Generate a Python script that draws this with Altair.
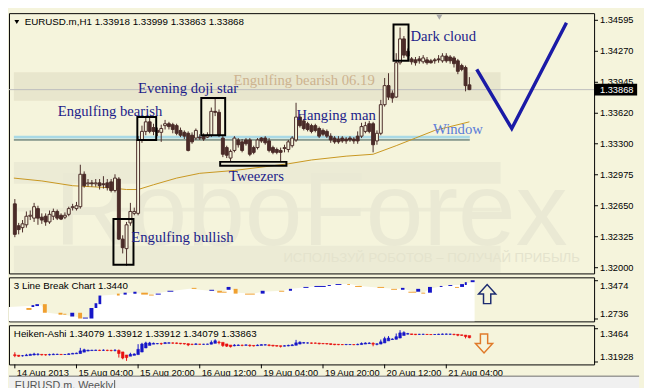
import altair as alt
import pandas as pd

# ---------------- data ----------------
opens = [1.3267,1.3244,1.3242,1.3245,1.3254,1.3252,1.3262,1.3253,1.3254,1.3248,
         1.3254,1.3259,1.3255,1.3253,1.3256,1.3263,1.3262,1.3264,1.3298,1.3288,
         1.3289,1.3288,1.3289,1.3288,1.3289,1.3290,1.3281,1.3293,1.3230,1.3220,
         1.3247,1.3257,1.3257,1.3334,1.3343,1.3353,1.3347,1.3344,1.3342,1.3349,
         1.3351,1.3350,1.3349,1.3344,1.3342,1.3341,1.3339,1.3336,1.3337,1.3338,
         1.3337,1.3339,1.3364,1.3363,1.3336,1.3326,1.3315,1.3323,1.3334,1.3332,
         1.3334,1.3334,1.3326,1.3326,1.3336,1.3336,1.3333,1.3326,1.3324,1.3323,
         1.3325,1.3324,1.3328,1.3334,1.3358,1.3354,1.3351,1.3349,1.3349,1.3346,
         1.3344,1.3343,1.3338,1.3336,1.3335,1.3336,1.3335,1.3336,1.3335,1.3338,
         1.3338,1.3343,1.3351,1.3351,1.3333,1.3341,1.3371,1.3391,1.3383,1.3379,
         1.3415,1.3440,1.3427,1.3419,1.3418,1.3419,1.3416,1.3418,1.3417,1.3418,
         1.3419,1.3417,1.3422,1.3421,1.3420,1.3417,1.3412,1.3410,1.33918]
highs = [1.3272,1.3247,1.3250,1.3259,1.3260,1.3268,1.3265,1.3257,1.3257,1.3260,
         1.3262,1.3261,1.3257,1.3258,1.3264,1.3267,1.3269,1.3308,1.3301,1.3293,
         1.3292,1.3293,1.3293,1.3296,1.3293,1.3293,1.3298,1.3295,1.3234,1.3248,
         1.3268,1.3263,1.3338,1.3349,1.3358,1.3357,1.3351,1.3347,1.3350,1.3355,
         1.3353,1.3352,1.3351,1.3347,1.3344,1.3343,1.3342,1.3346,1.3340,1.3341,
         1.3342,1.3368,1.3378,1.3366,1.3338,1.3328,1.3324,1.3338,1.3336,1.3335,
         1.3336,1.3336,1.3328,1.3336,1.3337,1.3338,1.3336,1.3328,1.3326,1.3326,
         1.3329,1.3334,1.3338,1.3373,1.3361,1.3356,1.3353,1.3351,1.3351,1.3348,
         1.3346,1.3345,1.3341,1.3338,1.3338,1.3338,1.3337,1.3338,1.3337,1.3343,
         1.3352,1.3353,1.3354,1.3353,1.3344,1.3376,1.3399,1.3404,1.3386,1.3425,
         1.3452,1.3443,1.3430,1.3421,1.3421,1.3422,1.3423,1.3421,1.3419,1.3420,
         1.3423,1.3425,1.3425,1.3423,1.3422,1.3419,1.3414,1.3412,1.33999]
lows = [1.3232,1.3235,1.3237,1.3242,1.3250,1.3248,1.3245,1.3246,1.3244,1.3246,
        1.3250,1.3250,1.3250,1.3251,1.3254,1.3260,1.3260,1.3262,1.3284,1.3285,
        1.3285,1.3285,1.3282,1.3283,1.3281,1.3279,1.3279,1.3229,1.3215,1.3202,
        1.3244,1.3255,1.3255,1.3331,1.3339,1.3341,1.3339,1.3338,1.3332,1.3345,
        1.3345,1.3341,1.3339,1.3337,1.3335,1.3322,1.3330,1.3334,1.3334,1.3333,
        1.3336,1.3337,1.3359,1.3337,1.3316,1.3315,1.3311,1.3321,1.3326,1.3321,
        1.3328,1.3317,1.3319,1.3324,1.3331,1.3329,1.3321,1.3319,1.3319,1.3311,
        1.3321,1.3321,1.3326,1.3332,1.3347,1.3344,1.3343,1.3341,1.3342,1.3336,
        1.3338,1.3336,1.3331,1.3330,1.3330,1.3331,1.3330,1.3332,1.3330,1.3330,
        1.3336,1.3341,1.3341,1.3321,1.3329,1.3339,1.3369,1.3376,1.3373,1.3378,
        1.3413,1.3420,1.3418,1.3413,1.3412,1.3414,1.3414,1.3413,1.3414,1.3414,
        1.3415,1.3415,1.3415,1.3414,1.3410,1.3403,1.3406,1.3385,1.33863]
closes = [1.3235,1.3240,1.3246,1.3254,1.3255,1.3264,1.3252,1.3250,1.3248,1.3256,
          1.3259,1.3252,1.3251,1.3255,1.3262,1.3264,1.3265,1.3298,1.3286,1.3289,
          1.3288,1.3289,1.3286,1.3287,1.3284,1.3281,1.3294,1.3230,1.3221,1.3245,
          1.3259,1.3259,1.3334,1.3343,1.3353,1.3343,1.3343,1.3342,1.3346,1.3351,
          1.3348,1.3345,1.3341,1.3339,1.3338,1.3323,1.3332,1.3344,1.3336,1.3335,
          1.3339,1.3364,1.3363,1.3339,1.3319,1.3318,1.3322,1.3336,1.3329,1.3323,
          1.3330,1.3319,1.3321,1.3334,1.3333,1.3331,1.3323,1.3321,1.3321,1.3321,
          1.3326,1.3332,1.3336,1.3358,1.3349,1.3346,1.3345,1.3343,1.3344,1.3338,
          1.3340,1.3338,1.3334,1.3332,1.3332,1.3333,1.3333,1.3334,1.3333,1.3333,
          1.3348,1.3349,1.3343,1.3329,1.3341,1.3371,1.3391,1.3379,1.3378,1.3415,
          1.3440,1.3423,1.3422,1.3416,1.3415,1.3417,1.3420,1.3415,1.3415,1.3417,
          1.3418,1.3422,1.3417,1.3417,1.3414,1.3406,1.3408,1.3391,1.33868]

ha_open = [1.3252,1.3248,1.3244,1.3244,1.3246,1.3250,1.3254,1.3255,1.3253,1.3252,
           1.3252,1.3254,1.3255,1.3254,1.3254,1.3257,1.3260,1.3262,1.3273,1.3282,
           1.3286,1.3287,1.3288,1.3288,1.3288,1.3287,1.3287,1.3287,1.3275,1.3250,
           1.3240,1.3247,1.3253,1.3274,1.3307,1.3328,1.3338,1.3342,1.3343,1.3343,
           1.3346,1.3348,1.3348,1.3346,1.3344,1.3342,1.3337,1.3336,1.3338,1.3337,
           1.3337,1.3338,1.3345,1.3355,1.3353,1.3340,1.3331,1.3325,1.3327,1.3329,
           1.3329,1.3330,1.3328,1.3326,1.3328,1.3331,1.3332,1.3330,1.3327,1.3325,
           1.3322,1.3324,1.3326,1.3329,1.3339,1.3347,1.3348,1.3348,1.3347,1.3347,
           1.3344,1.3343,1.3342,1.3339,1.3337,1.3335,1.3335,1.3335,1.3335,1.3334,
           1.3335,1.3339,1.3343,1.3345,1.3337,1.3339,1.3348,1.3365,1.3376,1.3378,
           1.3388,1.3409,1.3420,1.3422,1.3420,1.3418,1.3418,1.3418,1.3417,1.3417,
           1.3417,1.3418,1.3419,1.3419,1.3419,1.3418,1.3414,1.3412,1.3408]
ha_close = [1.3245,1.3240,1.3244,1.3249,1.3255,1.3258,1.3256,1.3251,1.3251,1.3253,
            1.3256,1.3255,1.3253,1.3254,1.3259,1.3263,1.3265,1.3283,1.3292,1.3289,
            1.3289,1.3289,1.3287,1.3288,1.3287,1.3286,1.3287,1.3262,1.3225,1.3229,
            1.3255,1.3258,1.3296,1.3339,1.3348,1.3348,1.3345,1.3343,1.3342,1.3350,
            1.3349,1.3347,1.3345,1.3342,1.3340,1.3332,1.3336,1.3340,1.3337,1.3337,
            1.3338,1.3352,1.3366,1.3351,1.3327,1.3322,1.3318,1.3330,1.3331,1.3328,
            1.3332,1.3326,1.3324,1.3330,1.3334,1.3333,1.3328,1.3324,1.3322,1.3320,
            1.3325,1.3328,1.3332,1.3349,1.3354,1.3350,1.3348,1.3346,1.3346,1.3342,
            1.3342,1.3340,1.3336,1.3334,1.3334,1.3334,1.3336,1.3335,1.3334,1.3336,
            1.3344,1.3347,1.3347,1.3338,1.3341,1.3357,1.3383,1.3388,1.3380,1.3399,
            1.3430,1.3432,1.3424,1.3417,1.3416,1.3418,1.3418,1.3417,1.3416,1.3417,
            1.3419,1.3420,1.3420,1.3419,1.3417,1.3411,1.3410,1.3400,1.3391]

ma_i = [-0.25,7,15,24,29,32,36,42,48,57,65,71,77,86,93,99,104,109,114,118]
ma_v = [1.3294,1.3291,1.3286,1.3284,1.3282,1.3282,1.3287,1.3294,1.3299,1.3302,
        1.3306,1.3309,1.3313,1.3317,1.3319,1.3328,1.3336,1.3344,1.3349,1.3353]

lb_x0 = [4.2,5.5,6.5,8.4,12.4,13.6,15.4,17.4,18.6,20.3,21.6,22.6,27.3,29.0,31.5,33.5,
         35.5,37.2,40.2,46.4,50.9,52.9,54.1,55.3,57.1,60.0,64.0,68.7,71.2,74.9,77.7,81.1,
         83.1,86.1,88.1,93.8,97.3,99.8,101.7,103.7,105.0,106.7,109.7,111.9,113.6,114.9,116.1,117.6]
lb_x1 = [5.5,6.2,7.4,9.4,13.4,14.4,16.4,18.4,19.9,21.3,22.3,23.3,28.0,29.8,32.3,35.2,
         36.7,38.5,41.7,47.6,52.1,54.1,55.3,56.3,58.1,62.5,65.0,70.0,72.0,76.2,80.6,81.9,
         84.6,86.8,89.8,95.5,98.8,100.7,103.7,104.7,106.0,107.7,110.4,112.9,114.6,115.9,116.6,118.6]
lb_top = [1.2948,1.3003,1.3022,1.3022,1.2856,1.2837,1.2856,1.2856,1.2763,1.2948,1.3040,1.3188,
          1.3225,1.3243,1.3262,1.3243,1.3206,1.3225,1.3280,1.3336,1.3299,1.3280,1.3262,1.3354,
          1.3317,1.3225,1.3280,1.3280,1.3317,1.3354,1.3373,1.3391,1.3409,1.3409,1.3373,1.3354,
          1.3317,1.3336,1.3262,1.3317,1.3243,1.3354,1.3373,1.3391,1.3354,1.3409,1.3446,1.3483]
lb_bot = [1.2911,1.2967,1.2985,1.2856,1.2819,1.2819,1.2782,1.2745,1.2745,1.2745,1.2948,1.3022,
          1.3188,1.3206,1.3225,1.3206,1.3188,1.3206,1.3262,1.3317,1.3280,1.3243,1.3243,1.3299,
          1.3225,1.3206,1.3225,1.3262,1.3280,1.3336,1.3354,1.3373,1.3391,1.3391,1.3354,1.3336,
          1.3299,1.3299,1.3243,1.3262,1.3225,1.3243,1.3354,1.3373,1.3336,1.3354,1.3391,1.3446]
lb_dir = ["o","b","b","o","o","o","b","o","b","b","b","b","o","b","b","o",
          "o","b","b","o","b","o","o","b","o","o","b","o","b","b","b","b",
          "b","o","o","o","o","b","o","b","o","b","b","b","o","b","b","b"]
lb_area_i = [-0.25,7.9,9.7,13.6,16.6,18.6,20.1,21.6,22.6,23.6,27.3,31.0,36.0,39.7,45.9,
             50.9,54.6,55.8,58.3,62.0,64.5,69.5,72.0,75.7,79.4,83.1,86.8,89.3,94.3,98.0,
             100.5,103.0,105.5,107.2,110.4,112.9,115.4,116.9,118.6]
lb_area_v = [1.2967,1.3003,1.2856,1.2819,1.2782,1.2745,1.2745,1.2967,1.3077,1.3188,1.3206,
             1.3243,1.3206,1.3262,1.3317,1.3280,1.3262,1.3336,1.3243,1.3225,1.3262,1.3280,
             1.3317,1.3354,1.3373,1.3409,1.3409,1.3373,1.3336,1.3317,1.3317,1.3262,1.3243,
             1.3317,1.3373,1.3391,1.3391,1.3428,1.3465]

main_ticks = [1.32000,1.32325,1.32650,1.32975,1.33300,1.33620,1.33945,1.34270,1.34595]
main_tick_labels = ["1.32000","1.32325","1.32650","1.32975","1.33300","1.33620",
                    "1.33945","1.34270","1.34595"]
lb_ticks = [1.2736, 1.3474]
lb_tick_labels = ["1.2736", "1.3474"]
ha_ticks = [1.31928, 1.3464]
ha_tick_labels = ["1.31928", "1.3464"]
x_tick_idx = [0,16,32,48,64,80,96,112]
x_tick_labels = ["14 Aug 2013","15 Aug 04:00","15 Aug 20:00","16 Aug 12:00",
                 "19 Aug 04:00","19 Aug 20:00","20 Aug 12:00","21 Aug 04:00"]

box_x0 = [31.8, 48.4, 25.6, 53.3, 98.3]
box_x1 = [36.7, 54.6, 30.8, 70.5, 102.2]
box_lo = [1.3334, 1.3339, 1.3203, 1.3307, 1.3417]
box_hi = [1.3358, 1.3378, 1.3251, 1.3311, 1.3455]

ann_text = ["Evening doji star","Engulfing bearish","Hanging man","Dark cloud",
            "Tweezers","Engulfing bullish","Window"]
ann_i = [45.0, 24.7, 83.4, 111.2, 62.7, 43.5, 115.0]
ann_p = [1.3388, 1.3364, 1.3360, 1.3443, 1.3296, 1.3232, 1.3345]
ann_col = ["#1C1C8A"]*6 + ["#5A7BD8"]

v_i = [119.9, 129.0, 143.2]
v_p = [1.3408, 1.3346, 1.3457]

zone_x = [-0.25, 126.1]
zone_p = [1.3375, 1.3405]
wm_band_lo = [1.3288, 1.3259, 1.3195]
wm_band_hi = [1.3311, 1.3263, 1.3223]
window_x = [-0.25, 118.1]
window_p = [1.3337, 1.3334]
last_price = 1.33868

# ---------------- layout / styles ----------------
W, H1, H2, H3 = 598, 266, 45, 40
BG = "#F5F4DC"
DARK = "#4A2B28"
BLUE = "#1616C8"
ORANGE = "#F0A030"
RED = "#E81010"
FONT = "Liberation Sans"

one = pd.DataFrame({"k": [0]})
xs = alt.Scale(domain=[-0.25, 149.1], nice=False, zero=False)
LB_DOM = [1.2690, 1.3539]
ys_main = alt.Scale(domain=[1.3194, 1.3467], nice=False, zero=False)
ys_lb = alt.Scale(domain=LB_DOM, nice=False, zero=False)
ys_ha = alt.Scale(domain=[1.3173, 1.3492], nice=False, zero=False)


def X(f):
    return alt.X(f, type="quantitative", scale=xs, axis=None)


def YM(f):
    return alt.Y(f, type="quantitative", scale=ys_main, axis=None)


def YL(f):
    return alt.Y(f, type="quantitative", scale=ys_lb, axis=None)


def YH(f):
    return alt.Y(f, type="quantitative", scale=ys_ha, axis=None)


def right_ticks(values, labels, Yf, baseline="middle"):
    df = pd.DataFrame({"v": values, "t": labels})
    ticks = alt.Chart(df).mark_rule(color="black", strokeWidth=1).encode(
        x=alt.value(W), x2=alt.value(W + 4), y=Yf("v"))
    text = alt.Chart(df).mark_text(align="left", baseline=baseline, font=FONT,
                                   fontSize=9.5, color="black").encode(
        x=alt.value(W + 6), y=Yf("v"), text="t")
    return [ticks, text]


cdf = pd.DataFrame({"i": list(range(len(opens))), "o": opens, "h": highs, "l": lows,
                    "c": closes, "ho": ha_open, "hc": ha_close})

# ---------------- main panel ----------------
bands = alt.Chart(pd.DataFrame({"x0": [zone_x[0]]*3, "x1": [zone_x[1]]*3,
                                "lo": wm_band_lo, "hi": wm_band_hi})).mark_rect(
    color="#ECEBD5").encode(x=X("x0"), x2="x1", y=YM("lo"), y2="hi")
zone = alt.Chart(pd.DataFrame({"x0": [zone_x[0]], "x1": [zone_x[1]],
                               "lo": [zone_p[0]], "hi": [zone_p[1]]})).mark_rect(
    color="#E8E6CD").encode(x=X("x0"), x2="x1", y=YM("lo"), y2="hi")
wm = alt.Chart(pd.DataFrame({"i": [76.9], "p": [1.3224], "t": ["RoboForex"]})).mark_text(
    font=FONT, fontSize=106, color="#EAE9D4", baseline="alphabetic").encode(
    x=X("i"), y=YM("p"), text="t")
wm2 = alt.Chart(pd.DataFrame({"i": [108.2], "p": [1.3210],
                              "t": ["ИСПОЛЬЗУЙ РОБОТОВ – ПОЛУЧАЙ ПРИБЫЛЬ"]})).mark_text(
    font=FONT, fontSize=13.5, color="#E4E3CD").encode(x=X("i"), y=YM("p"), text="t")
zone_lbl = alt.Chart(pd.DataFrame({"i": [75.1], "p": [1.3397],
                                   "t": ["Engulfing bearish 06.19"]})).mark_text(
    font="Liberation Serif", fontSize=15, color="#CDB38F").encode(x=X("i"), y=YM("p"), text="t")
bid = alt.Chart(pd.DataFrame({"p": [last_price]})).mark_rule(
    color="#BDBDBD", strokeWidth=1).encode(y=YM("p"))
win_df = pd.DataFrame({"x0": [window_x[0]], "x1": [window_x[1]],
                       "a": [window_p[0]], "b": [window_p[1]]})
win1 = alt.Chart(win_df).mark_rule(color="#A9D9E6", strokeWidth=3).encode(
    x=X("x0"), x2="x1", y=YM("a"))
win2 = alt.Chart(win_df).mark_rule(color="#2F4F4F", strokeWidth=1).encode(
    x=X("x0"), x2="x1", y=YM("b"))
ma = alt.Chart(pd.DataFrame({"i": ma_i, "v": ma_v})).mark_line(
    color="#C8961E", strokeWidth=1).encode(x=X("i"), y=YM("v"))
wicks = alt.Chart(cdf).mark_rule(color=DARK, strokeWidth=1).encode(
    x=X("i"), y=YM("l"), y2="h")
bodies = alt.Chart(cdf).mark_bar(size=3, stroke=DARK, strokeWidth=1).encode(
    x=X("i"), y=YM("o"), y2="c",
    fill=alt.condition("datum.c >= datum.o", alt.value(BG), alt.value(DARK)))
boxes = alt.Chart(pd.DataFrame({"x0": box_x0, "x1": box_x1, "lo": box_lo, "hi": box_hi})).mark_rect(
    fillOpacity=0, stroke="black", strokeWidth=2).encode(x=X("x0"), x2="x1", y=YM("lo"), y2="hi")
ann = alt.Chart(pd.DataFrame({"i": ann_i, "p": ann_p, "t": ann_text, "col": ann_col})).mark_text(
    font="Liberation Serif", fontSize=15).encode(
    x=X("i"), y=YM("p"), text="t", color=alt.Color("col:N", scale=None))
vline = alt.Chart(pd.DataFrame({"i": v_i, "p": v_p})).mark_line(
    color="#1A1AA6", strokeWidth=3.5).encode(x=X("i"), y=YM("p"))
hdr_tri = alt.Chart(one).mark_point(shape="triangle-down", filled=True, color="black",
                                   size=24, opacity=1).encode(x=alt.value(8), y=alt.value(9))
hdr = alt.Chart(one).mark_text(align="left", baseline="middle", font=FONT, fontSize=10,
                               color="black").encode(
    x=alt.value(16), y=alt.value(9),
    text=alt.value("EURUSD.m,H1  1.33918 1.33999 1.33863 1.33868"))
shift_tri = alt.Chart(pd.DataFrame({"i": [110.2]})).mark_point(
    shape="triangle-down", filled=True, color="#A8A8A8", size=40, opacity=1).encode(
    x=X("i"), y=alt.value(4))
main_axis = right_ticks(main_ticks, main_tick_labels, YM)
pbox = alt.Chart(pd.DataFrame({"p": [last_price]})).mark_rule(
    color="black", strokeWidth=12).encode(x=alt.value(W), x2=alt.value(W + 44), y=YM("p"))
ptxt = alt.Chart(pd.DataFrame({"p": [last_price], "t": ["1.33868"]})).mark_text(
    align="left", baseline="middle", font=FONT, fontSize=9.5, color="white").encode(
    x=alt.value(W + 6), y=YM("p"), text="t")

main = alt.layer(bands, zone, wm, wm2, zone_lbl, bid, win1, win2, ma, wicks, bodies,
                 boxes, ann, vline, hdr_tri, hdr, shift_tri, *main_axis, pbox, ptxt).properties(
    width=W, height=H1)

# ---------------- 3 line break panel ----------------
lb_area = alt.Chart(pd.DataFrame({"i": lb_area_i, "v": lb_area_v,
                                  "base": [LB_DOM[0]] * len(lb_area_i)})).mark_area(
    color="white", opacity=1).encode(x=X("i"), y=YL("v"), y2="base")
bricks = alt.Chart(pd.DataFrame({"x0": lb_x0, "x1": lb_x1, "t": lb_top, "b": lb_bot,
                                 "d": lb_dir})).mark_rect().encode(
    x=X("x0"), x2="x1", y=YL("t"), y2="b",
    color=alt.Color("d:N", scale=alt.Scale(domain=["b", "o"], range=[BLUE, ORANGE]),
                    legend=None))
lb_lbl = alt.Chart(one).mark_text(align="left", baseline="middle", font=FONT, fontSize=10,
                                  color="black").encode(
    x=alt.value(5), y=alt.value(9), text=alt.value("3 Line Break Chart 1.3440"))
up_arrow = alt.Chart(pd.DataFrame({"i": [121.8], "v": [1.3216]})).mark_point(
    shape="M -0.38 1 L -0.38 0 L -0.9 0 L 0 -1 L 0.9 0 L 0.38 0 L 0.38 1 Z",
    size=380, filled=True, fill=BG, stroke="#1C2B70", strokeWidth=1.5, opacity=1).encode(
    x=X("i"), y=YL("v"))
lb_ax_top = right_ticks(lb_ticks[1:], lb_tick_labels[1:], YL, "top")
lb_ax_bot = right_ticks(lb_ticks[:1], lb_tick_labels[:1], YL, "bottom")
sub1 = alt.layer(lb_area, bricks, lb_lbl, up_arrow, *lb_ax_top, *lb_ax_bot).properties(
    width=W, height=H2)

# ---------------- Heiken-Ashi panel ----------------
ha_col = alt.condition("datum.hc >= datum.ho", alt.value(BLUE), alt.value(RED))
ha_wick = alt.Chart(cdf).mark_rule(strokeWidth=1).encode(
    x=X("i"), y=YH("l"), y2="h", color=ha_col)
ha_bar = alt.Chart(cdf).mark_bar(size=2.6, strokeWidth=0.6).encode(
    x=X("i"), y=YH("ho"), y2="hc", fill=ha_col, stroke=ha_col)
ha_lbl = alt.Chart(one).mark_text(align="left", baseline="middle", font=FONT, fontSize=10,
                                  color="black").encode(
    x=alt.value(5), y=alt.value(9),
    text=alt.value("Heiken-Ashi 1.34079 1.33912 1.33912 1.34079 1.33863"))
down_arrow = alt.Chart(pd.DataFrame({"i": [121.8], "v": [1.3344]})).mark_point(
    shape="M -0.38 -1 L -0.38 0 L -0.9 0 L 0 1 L 0.9 0 L 0.38 0 L 0.38 -1 Z",
    size=380, filled=True, fill=BG, stroke="#E07A2A", strokeWidth=1.5, opacity=1).encode(
    x=X("i"), y=YH("v"))
ha_ax_top = right_ticks(ha_ticks[1:], ha_tick_labels[1:], YH, "top")
ha_ax_bot = right_ticks(ha_ticks[:1], ha_tick_labels[:1], YH, "bottom")
xdf = pd.DataFrame({"i": x_tick_idx, "t": x_tick_labels})
xticks = alt.Chart(xdf).mark_rule(color="black", strokeWidth=1).encode(
    x=X("i"), y=alt.value(H3), y2=alt.value(H3 + 4))
xlab = alt.Chart(xdf).mark_text(
    align="left", baseline="top", font=FONT, fontSize=9.5, color="black", dx=2).encode(
    x=X("i"), y=alt.value(H3 + 4), text="t")
tab = alt.Chart(one).mark_rect(color="#F0F0F0").encode(
    x=alt.value(0), x2=alt.value(W + 46), y=alt.value(H3 + 12), y2=alt.value(H3 + 26))
tab_line = alt.Chart(one).mark_rule(color="#6E6E6E", strokeWidth=1).encode(
    x=alt.value(0), x2=alt.value(W + 46), y=alt.value(H3 + 12))
tab_txt = alt.Chart(one).mark_text(align="left", baseline="top", font=FONT, fontSize=11,
                                   color="#555555").encode(
    x=alt.value(6), y=alt.value(H3 + 16), text=alt.value("EURUSD.m, Weekly"))
tab_sep = alt.Chart(one).mark_rule(color="#555555", strokeWidth=1).encode(
    x=alt.value(108), y=alt.value(H3 + 16), y2=alt.value(H3 + 26))
sub2 = alt.layer(ha_wick, ha_bar, ha_lbl, down_arrow, *ha_ax_top, *ha_ax_bot, xticks, xlab,
                 tab, tab_line, tab_txt, tab_sep).properties(width=W, height=H3)

chart = alt.vconcat(main, sub1, sub2, spacing=2).properties(
    background=BG, padding={"left": 0, "top": 0, "right": 0, "bottom": 0}
).configure_view(stroke="black", strokeWidth=1)

chart.save("out.html", embed_options={"renderer": "svg", "actions": False})
